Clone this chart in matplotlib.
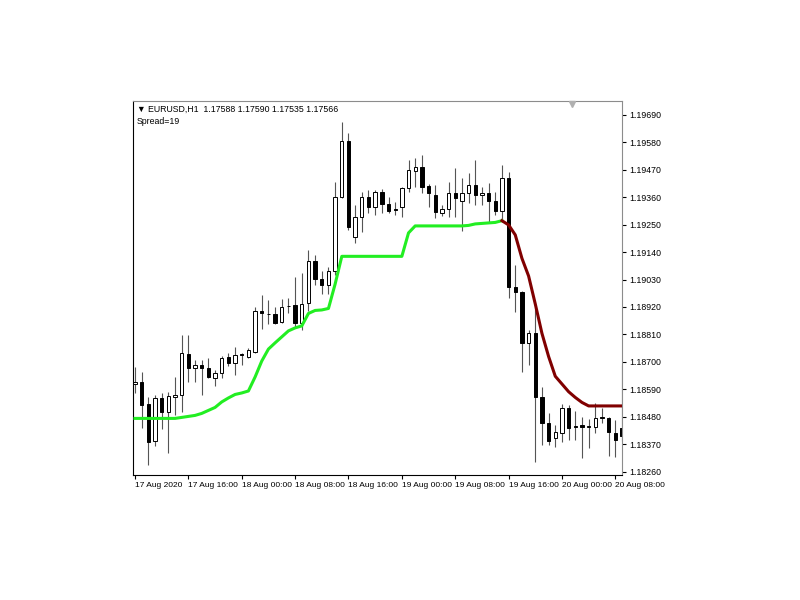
import matplotlib
matplotlib.use('Agg')
import matplotlib.pyplot as plt
import numpy as np

plt.rcParams['font.family'] = ['Liberation Sans', 'DejaVu Sans']

# EURUSD H1 candles, 17 Aug 2020 08:00 onwards
opens = [1.18611, 1.18620, 1.18531, 1.18382, 1.18555, 1.18500, 1.18560, 1.18567, 1.18731, 1.18675,
         1.18687, 1.18677, 1.18636, 1.18656, 1.18719, 1.18696, 1.18731, 1.18721, 1.18741, 1.18904,
         1.18893, 1.18892, 1.18858, 1.18922, 1.18928, 1.18854, 1.18936, 1.19104, 1.19032, 1.19008,
         1.19064, 1.19362, 1.19586, 1.19202, 1.19282, 1.19362, 1.19320, 1.19382, 1.19333, 1.19311,
         1.19320, 1.19396, 1.19467, 1.19480, 1.19405, 1.19369, 1.19298, 1.19312, 1.19376, 1.19346,
         1.19376, 1.19409, 1.19369, 1.19378, 1.19346, 1.19306, 1.19436, 1.19001, 1.18981, 1.18774,
         1.18817, 1.18560, 1.18455, 1.18393, 1.18416, 1.18514, 1.18443, 1.18445, 1.18439, 1.18440,
         1.18477, 1.18473, 1.18413, 1.18434]
highs = [1.18679, 1.18660, 1.18559, 1.18567, 1.18575, 1.18577, 1.18639, 1.18808, 1.18808, 1.18707,
         1.18707, 1.18715, 1.18669, 1.18723, 1.18737, 1.18759, 1.18735, 1.18757, 1.18918, 1.18968,
         1.18948, 1.18918, 1.18950, 1.18955, 1.19041, 1.19056, 1.19149, 1.19128, 1.19064, 1.19080,
         1.19423, 1.19663, 1.19618, 1.19329, 1.19382, 1.19389, 1.19389, 1.19392, 1.19362, 1.19342,
         1.19402, 1.19510, 1.19516, 1.19530, 1.19413, 1.19409, 1.19329, 1.19423, 1.19476, 1.19436,
         1.19456, 1.19510, 1.19402, 1.19416, 1.19382, 1.19489, 1.19463, 1.19088, 1.18983, 1.18828,
         1.18921, 1.18597, 1.18494, 1.18447, 1.18531, 1.18527, 1.18503, 1.18480, 1.18471, 1.18534,
         1.18516, 1.18477, 1.18467, 1.18687]
lows = [1.18575, 1.18434, 1.18286, 1.18362, 1.18430, 1.18334, 1.18487, 1.18499, 1.18620, 1.18620,
        1.18567, 1.18635, 1.18601, 1.18635, 1.18685, 1.18649, 1.18687, 1.18717, 1.18737, 1.18832,
        1.18852, 1.18851, 1.18856, 1.18896, 1.18840, 1.18828, 1.18904, 1.19008, 1.18972, 1.18972,
        1.19048, 1.19357, 1.19229, 1.19177, 1.19222, 1.19296, 1.19289, 1.19296, 1.19296, 1.19289,
        1.19282, 1.19382, 1.19402, 1.19376, 1.19322, 1.19276, 1.19285, 1.19282, 1.19282, 1.19226,
        1.19336, 1.19329, 1.19329, 1.19262, 1.19289, 1.19262, 1.18955, 1.18901, 1.18660, 1.18687,
        1.18299, 1.18366, 1.18366, 1.18360, 1.18378, 1.18386, 1.18386, 1.18313, 1.18354, 1.18413,
        1.18453, 1.18322, 1.18319, 1.18382]
closes = [1.18619, 1.18527, 1.18378, 1.18555, 1.18500, 1.18563, 1.18567, 1.18735, 1.18676, 1.18687,
          1.18677, 1.18640, 1.18657, 1.18715, 1.18696, 1.18729, 1.18726, 1.18749, 1.18902, 1.18894,
          1.18891, 1.18857, 1.18919, 1.18924, 1.18854, 1.18932, 1.19104, 1.19032, 1.19008, 1.19064,
          1.19362, 1.19586, 1.19242, 1.19282, 1.19362, 1.19320, 1.19382, 1.19333, 1.19306, 1.19307,
          1.19396, 1.19469, 1.19480, 1.19402, 1.19376, 1.19302, 1.19312, 1.19376, 1.19356, 1.19376,
          1.19409, 1.19369, 1.19378, 1.19346, 1.19306, 1.19436, 1.19001, 1.18981, 1.18774, 1.18817,
          1.18560, 1.18455, 1.18382, 1.18420, 1.18514, 1.18434, 1.18437, 1.18437, 1.18443, 1.18473,
          1.18475, 1.18419, 1.18386, 1.18402]

# indicator line: uptrend part (bars 0-55), downtrend part (bars 55-73)
trend_up = [1.18473, 1.18473, 1.18473, 1.18473, 1.18473, 1.18473, 1.18473, 1.18477, 1.18481, 1.18485,
            1.18493, 1.18505, 1.18517, 1.18539, 1.18555, 1.18569, 1.18575, 1.18583, 1.18639, 1.18703,
            1.18751, 1.18776, 1.18800, 1.18824, 1.18836, 1.18844, 1.18894, 1.18906, 1.18908, 1.18914,
            1.19012, 1.19123, 1.19123, 1.19123, 1.19123, 1.19123, 1.19123, 1.19123, 1.19123, 1.19123,
            1.19123, 1.19217, 1.19245, 1.19245, 1.19245, 1.19245, 1.19245, 1.19245, 1.19245, 1.19245,
            1.19247, 1.19253, 1.19255, 1.19257, 1.19259, 1.19266]
trend_down = [1.19266, 1.19249, 1.19209, 1.19115, 1.19044, 1.18932, 1.18814, 1.18721, 1.18642, 1.18611,
              1.18580, 1.18557, 1.18537, 1.18523, 1.18523, 1.18523, 1.18523, 1.18523, 1.18523]

time_labels = ['17 Aug 2020', '17 Aug 16:00', '18 Aug 00:00', '18 Aug 08:00', '18 Aug 16:00',
               '19 Aug 00:00', '19 Aug 08:00', '19 Aug 16:00', '20 Aug 00:00', '20 Aug 08:00']
label_bars = [0, 8, 16, 24, 32, 40, 48, 56, 64, 72]
price_ticks = [1.18260, 1.18370, 1.18480, 1.18590, 1.18700, 1.18810, 1.18920,
               1.19030, 1.19140, 1.19250, 1.19360, 1.19470, 1.19580, 1.19690]

o = np.array(opens)
h = np.array(highs)
l = np.array(lows)
c = np.array(closes)
x = np.arange(len(o))

fig = plt.figure(figsize=(8, 6), dpi=100)
ax = fig.add_axes([133 / 800, 1 - 475 / 600, 489 / 800, 374 / 600])

# wicks
ax.vlines(x, l, h, color='#555555', linewidth=0.8, zorder=1)

# bodies
up = c >= o
bottom = np.minimum(o, c)
height = np.maximum(np.abs(c - o), 0.000025)
ax.bar(x[up], height[up], bottom=bottom[up], width=0.5, facecolor='white',
       edgecolor='black', linewidth=0.7, zorder=2)
ax.bar(x[~up], height[~up], bottom=bottom[~up], width=0.5, facecolor='black',
       edgecolor='black', linewidth=0.7, zorder=2)

# trend line
ax.plot(np.arange(len(trend_up)), trend_up, color='#22ee22', linewidth=2.2,
        solid_joinstyle='round', zorder=3)
ax.plot(np.arange(55, 55 + len(trend_down)), trend_down, color='#800000', linewidth=2.2,
        solid_joinstyle='round', zorder=3)

ax.set_xlim(-0.3, 73.0)
ax.set_ylim(1.18246, 1.19746)

ax.yaxis.tick_right()
ax.set_yticks(price_ticks)
ax.set_yticklabels([f'{p:.5f}' for p in price_ticks])
ax.tick_params(axis='y', length=3, width=0.8, labelsize=6.3, pad=2, colors='black')

ax.set_xticks(label_bars)
ax.set_xticklabels(time_labels, ha='left')
ax.tick_params(axis='x', length=3, width=0.8, labelsize=6, pad=2)

for side in ['left', 'bottom']:
    ax.spines[side].set_color('black')
    ax.spines[side].set_linewidth(0.8)
for side in ['top', 'right']:
    ax.spines[side].set_color('#8c8c8c')
    ax.spines[side].set_linewidth(0.8)

# chart shift marker
ax.plot([0.898], [0.992], marker='v', markersize=5, color='#b0b0b0',
        transform=ax.transAxes, clip_on=False, zorder=5)

fig.text(137 / 800, 1 - 109 / 600, '\u25bc EURUSD,H1  1.17588 1.17590 1.17535 1.17566',
         fontsize=6.3, va='center', ha='left')
fig.text(137 / 800, 1 - 121 / 600, 'Spread=19', fontsize=6.3, va='center', ha='left')

fig.savefig('out.png', dpi=100, facecolor='white')
